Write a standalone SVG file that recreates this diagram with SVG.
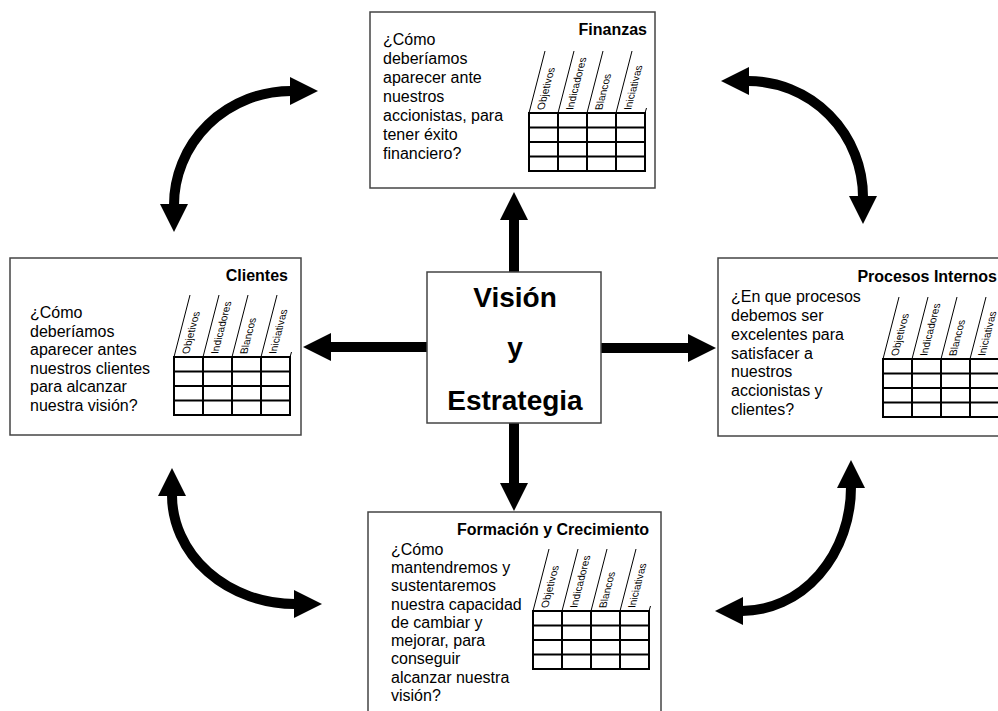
<svg xmlns="http://www.w3.org/2000/svg" xmlns:xlink="http://www.w3.org/1999/xlink" width="998" height="711" viewBox="0 0 998 711">
  <style>
    .box { fill: #ffffff; stroke: #444444; stroke-width: 1.5; }
    .title { font-family: "Liberation Sans", Arial, sans-serif; font-size: 16px; font-weight: bold; fill: #000; text-anchor: end; }
    .q { font-family: "Liberation Sans", Arial, sans-serif; font-size: 16px; fill: #000; }
    .core { font-family: "Liberation Sans", Arial, sans-serif; font-size: 28px; font-weight: bold; fill: #000; text-anchor: middle; }
    .grid { fill: none; stroke: #000; stroke-width: 2; }
    .slant { fill: none; stroke: #000; stroke-width: 1; }
    .hdr { font-family: "Liberation Sans", Arial, sans-serif; font-size: 10.5px; fill: #000; }
    .link { fill: none; stroke: #000; stroke-width: 10; }
  </style>
  <defs>
    <marker id="head" markerUnits="userSpaceOnUse" viewBox="0 -15 30 30" markerWidth="30" markerHeight="30" refX="1" refY="0" orient="auto-start-reverse">
      <path d="M0,-14 L28,0 L0,14 Z" fill="#000"/>
    </marker>
    <!-- scorecard table: 4x4 grid with slanted column headers, origin at grid top-left -->
    <g id="scorecard">
      <rect class="grid" x="0" y="0" width="116" height="58"/>
      <path class="grid" d="M29,0V58M58,0V58M87,0V58M0,14.5H116M0,29H116M0,43.5H116"/>
      <path class="slant" d="M0,0L16,-62M29,0L45,-62M58,0L74,-62M87,0L103,-62M116,0L117.5,-5"/>
      <text class="hdr" transform="matrix(0.25 -0.969 1 0 15 -3)">Objetivos</text>
      <text class="hdr" transform="matrix(0.25 -0.969 1 0 44 -3)">Indicadores</text>
      <text class="hdr" transform="matrix(0.25 -0.969 1 0 73 -3)">Blancos</text>
      <text class="hdr" transform="matrix(0.25 -0.969 1 0 102 -3)">Iniciativas</text>
    </g>
  </defs>

  <rect x="0" y="0" width="998" height="711" fill="#ffffff"/>

  <!-- connectors -->
  <g id="connectors">
    <path class="link" d="M514,272V219" marker-end="url(#head)"/>
    <path class="link" d="M514,423V484" marker-end="url(#head)"/>
    <path class="link" d="M427,347H330" marker-end="url(#head)"/>
    <path class="link" d="M601,348H689" marker-end="url(#head)"/>
    <path class="link" d="M174,205A117,114 0 0 1 291,91" marker-start="url(#head)" marker-end="url(#head)"/>
    <path class="link" d="M748,81A115,116 0 0 1 863,197" marker-start="url(#head)" marker-end="url(#head)"/>
    <path class="link" d="M172,495A123,109 0 0 0 295,604" marker-start="url(#head)" marker-end="url(#head)"/>
    <path class="link" d="M851,487A109,124 0 0 1 742,611" marker-start="url(#head)" marker-end="url(#head)"/>
  </g>

  <!-- central node -->
  <g id="vision">
    <rect class="box" x="427" y="272" width="174" height="151"/>
    <text class="core" x="515" y="307">Visión</text>
    <text class="core" x="515" y="357">y</text>
    <text class="core" x="515" y="410">Estrategia</text>
  </g>

  <g id="finanzas">
    <rect class="box" x="370" y="12" width="285" height="176"/>
    <text class="title" x="647" y="35">Finanzas</text>
    <text class="q" x="383">
      <tspan x="383" y="45">¿Cómo</tspan>
      <tspan x="383" y="64">deberíamos</tspan>
      <tspan x="383" y="83">aparecer ante</tspan>
      <tspan x="383" y="102">nuestros</tspan>
      <tspan x="383" y="121">accionistas, para</tspan>
      <tspan x="383" y="140">tener éxito</tspan>
      <tspan x="383" y="159">financiero?</tspan>
    </text>
    <use xlink:href="#scorecard" href="#scorecard" transform="translate(529,113)"/>
  </g>

  <g id="clientes">
    <rect class="box" x="10" y="258" width="291" height="177"/>
    <text class="title" x="288" y="281">Clientes</text>
    <text class="q">
      <tspan x="30" y="318">¿Cómo</tspan>
      <tspan x="30" y="336.5">deberíamos</tspan>
      <tspan x="30" y="355">aparecer antes</tspan>
      <tspan x="30" y="373.5">nuestros clientes</tspan>
      <tspan x="30" y="392">para alcanzar</tspan>
      <tspan x="30" y="410.5">nuestra visión?</tspan>
    </text>
    <use xlink:href="#scorecard" href="#scorecard" transform="translate(174,357)"/>
  </g>

  <g id="procesos">
    <rect class="box" x="718" y="258" width="290" height="178"/>
    <text class="title" x="997" y="282">Procesos Internos</text>
    <text class="q">
      <tspan x="731" y="301.5">¿En que procesos</tspan>
      <tspan x="731" y="320.5">debemos ser</tspan>
      <tspan x="731" y="339.5">excelentes para</tspan>
      <tspan x="731" y="358.5">satisfacer a</tspan>
      <tspan x="731" y="377">nuestros</tspan>
      <tspan x="731" y="396">accionistas y</tspan>
      <tspan x="731" y="415">clientes?</tspan>
    </text>
    <use xlink:href="#scorecard" href="#scorecard" transform="translate(883,359)"/>
  </g>

  <g id="formacion">
    <rect class="box" x="368" y="512" width="293" height="210"/>
    <text class="title" x="649" y="535">Formación y Crecimiento</text>
    <text class="q">
      <tspan x="391" y="554.5">¿Cómo</tspan>
      <tspan x="391" y="573">mantendremos y</tspan>
      <tspan x="391" y="591">sustentaremos</tspan>
      <tspan x="391" y="609.5">nuestra capacidad</tspan>
      <tspan x="391" y="627.5">de cambiar y</tspan>
      <tspan x="391" y="646">mejorar, para</tspan>
      <tspan x="391" y="664">conseguir</tspan>
      <tspan x="391" y="682.5">alcanzar nuestra</tspan>
      <tspan x="391" y="700.5">visión?</tspan>
    </text>
    <use xlink:href="#scorecard" href="#scorecard" transform="translate(533,611)"/>
  </g>
</svg>
